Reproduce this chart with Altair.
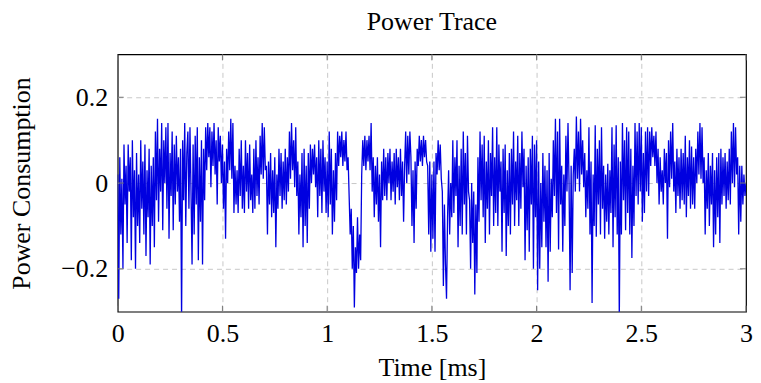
import altair as alt
import pandas as pd

power_0_0p5 = [
    0.02, -0.27, 0.06, -0.12, 0.01, -0.2, 0.09, -0.05, 0.04, -0.14, 0.09, -0.02, 0.06, -0.18, 0.10, -0.08, 0.03, -0.2, 0.07, -0.1,
    0.02, -0.14, 0.1, -0.06, 0.05, -0.12, 0.09, -0.17, 0.03, -0.08, 0.08, -0.19, 0.04, -0.1, 0.06, -0.15, 0.12, -0.04, 0.15, -0.09,
    0.08, -0.02, 0.14, -0.11, 0.1, 0.0, 0.13, -0.06, 0.14, -0.13, 0.07, -0.03, 0.12, -0.11, 0.09, -0.05, 0.11, -0.02, 0.06, -0.09,
    0.08, -0.32, 0.1, -0.04, 0.14, -0.1, 0.07, 0.12, -0.06, 0.13, -0.02, -0.19, 0.09, -0.12, 0.11, -0.05, 0.13, -0.18, 0.06, -0.09,
    0.1, -0.19, 0.08, -0.04, 0.13, 0.03, 0.14, 0.06, 0.13, -0.01, 0.12, 0.04, 0.14, 0.02, 0.1, -0.05, 0.13, 0.05, 0.11, 0.0,
]
power_0p5_1 = [
    0.09, -0.06, 0.05, -0.13, 0.08, 0.0, 0.12, 0.03, 0.15, 0.01, 0.14, -0.07, 0.04, -0.05, 0.03, -0.07, 0.08, -0.03, 0.1, -0.06,
    0.04, -0.07, 0.1, -0.02, 0.07, -0.06, 0.09, -0.04, 0.02, -0.07, 0.08, -0.06, 0.1, -0.03, 0.06, -0.05, 0.11, 0.02, 0.14, 0.01,
    0.13, 0.03, 0.04, -0.12, 0.05, -0.05, 0.07, -0.08, 0.03, -0.07, 0.06, -0.15, 0.02, -0.06, 0.08, -0.03, 0.07, -0.06, 0.05, -0.04,
    0.08, -0.05, 0.06, -0.02, 0.12, 0.01, 0.14, 0.03, 0.1, -0.01, 0.13, -0.03, 0.05, -0.12, 0.02, -0.08, 0.07, -0.15, 0.08, -0.1,
    0.04, -0.14, 0.07, -0.06, 0.09, 0.0, 0.08, 0.02, 0.09, -0.01, 0.06, -0.08, 0.1, -0.03, 0.08, -0.07, 0.1, -0.02, 0.06, -0.07,
]
power_1_1p5 = [
    0.05, -0.08, 0.12, -0.05, 0.08, -0.12, 0.03, -0.09, 0.07, -0.04, 0.12, 0.04, 0.11, 0.06, 0.12, 0.04, 0.1, 0.05, 0.12, 0.03,
    0.06, -0.03, -0.12, -0.06, -0.2, -0.1, -0.29, -0.15, -0.21, -0.08, -0.2, -0.12, -0.18, 0.02, 0.1, 0.04, 0.11, 0.03, 0.1, 0.05,
    0.11, 0.03, 0.14, -0.02, 0.06, -0.08, 0.04, -0.05, 0.06, -0.09, 0.02, -0.15, 0.05, -0.04, 0.08, -0.03, 0.06, -0.04, 0.07, 0.0,
    0.08, -0.04, 0.05, -0.02, 0.07, -0.05, 0.08, -0.01, 0.06, -0.04, 0.08, -0.03, 0.05, -0.09, 0.04, 0.12, 0.0, 0.11, 0.02, 0.12,
    0.06, -0.1, 0.03, -0.14, 0.05, -0.06, 0.08, 0.04, 0.11, 0.05, 0.1, 0.04, 0.11, 0.06, 0.1, 0.05, 0.04, -0.12, 0.05, -0.16,
]
power_1p5_2 = [
    0.02, -0.13, 0.05, -0.16, 0.07, 0.02, 0.1, 0.03, 0.09, 0.01, -0.02, -0.24, -0.05, -0.19, -0.27, -0.08, 0.03, -0.12, 0.0, -0.08,
    0.1, -0.07, 0.06, -0.03, 0.1, -0.15, 0.04, -0.1, 0.08, -0.12, 0.12, -0.05, 0.07, -0.12, 0.11, -0.02, -0.04, -0.2, 0.0, -0.14,
    -0.02, -0.26, -0.05, -0.21, 0.06, -0.09, 0.12, -0.04, 0.09, -0.08, 0.11, -0.14, 0.05, -0.06, 0.1, -0.12, 0.07, -0.03, 0.13, -0.1,
    0.06, -0.07, 0.13, -0.1, 0.09, -0.02, 0.05, -0.16, 0.08, -0.07, 0.09, -0.17, 0.03, -0.1, 0.07, -0.12, 0.08, -0.05, 0.12, -0.1,
    0.05, -0.04, 0.11, -0.1, 0.07, -0.06, 0.12, -0.01, 0.08, -0.18, 0.04, -0.11, 0.06, -0.16, 0.08, -0.05, 0.11, -0.2, 0.09, -0.08,
]
power_2_2p5 = [
    0.1, -0.25, 0.05, -0.2, 0.0, -0.15, 0.07, -0.09, 0.04, -0.15, 0.03, -0.23, 0.07, -0.16, 0.01, -0.08, 0.1, -0.03, 0.15, -0.07,
    0.12, -0.155, 0.15, -0.05, 0.04, -0.16, 0.02, -0.1, 0.11, -0.02, 0.14, 0.0, -0.25, 0.04, -0.21, 0.02, 0.08, -0.02, 0.155, 0.01,
    0.12, -0.02, 0.15, 0.02, 0.1, -0.01, 0.07, -0.08, 0.03, -0.06, 0.13, -0.12, 0.05, -0.28, 0.02, -0.1, 0.135, -0.125, 0.08, -0.05,
    0.1, -0.12, 0.13, -0.06, 0.04, -0.13, 0.02, -0.09, 0.045, -0.12, 0.03, -0.07, 0.13, -0.15, 0.09, -0.08, 0.135, -0.12, 0.06, -0.32,
    0.05, -0.12, 0.14, -0.04, 0.1, -0.11, 0.13, -0.07, 0.12, -0.12, 0.08, -0.175, 0.04, -0.1, 0.14, -0.03, 0.12, -0.05, 0.14, -0.02,
]
power_2p5_3 = [
    0.13, -0.09, 0.07, -0.07, 0.12, -0.02, 0.13, -0.03, 0.12, 0.04, 0.13, 0.06, 0.11, 0.04, 0.12, 0.0, 0.08, -0.05, 0.06, -0.02,
    0.03, -0.05, 0.08, 0.0, 0.07, -0.13, 0.1, -0.01, 0.12, 0.01, 0.14, -0.02, 0.05, -0.07, 0.08, -0.03, 0.06, -0.06, 0.08, -0.04,
    0.07, -0.05, 0.11, -0.08, 0.06, -0.03, 0.1, -0.06, 0.085, -0.05, 0.06, -0.06, 0.08, 0.0, 0.12, 0.02, 0.14, 0.01, 0.13, 0.0,
    0.06, -0.12, 0.03, -0.06, 0.07, -0.1, 0.04, -0.05, 0.07, -0.15, 0.03, -0.12, 0.06, -0.08, 0.07, -0.14, 0.08, -0.05, 0.06, -0.03,
    0.07, -0.06, 0.05, -0.04, 0.08, -0.05, 0.12, 0.0, 0.14, -0.01, 0.13, 0.02, 0.06, -0.12, 0.04, -0.09, 0.04, -0.05, 0.02, -0.03,
    0.0,
]

sample_step_ms = 0.005
x_ticks = [0, 0.5, 1, 1.5, 2, 2.5, 3]
y_ticks = [-0.2, 0, 0.2]

power = (power_0_0p5 + power_0p5_1 + power_1_1p5 + power_1p5_2
         + power_2_2p5 + power_2p5_3)
df = pd.DataFrame({
    "t": [round(i * sample_step_ms, 4) for i in range(len(power))],
    "p": power,
})

FONT = "Liberation Serif"
FS = 26
W, H = 630, 258

xs = alt.Scale(domain=[0, 3], nice=False, zero=False)
ys = alt.Scale(domain=[-0.3, 0.3], nice=False, zero=False)

edge_hidden = {"condition": {"test": "datum.value <= 0 || datum.value >= 3", "value": 0},
               "value": 1}

line = alt.Chart(df).mark_line(color="#0000e0", strokeWidth=1.3, clip=True).encode(
    x=alt.X("t:Q", scale=xs, title="Time [ms]",
            axis=alt.Axis(values=x_ticks, format=".1~f", ticks=False, labelPadding=9,
                          labelFlush=False, titlePadding=8, grid=True, gridDash=[5, 4],
                          gridColor="#c8c8c8", gridOpacity=edge_hidden, domain=False)),
    y=alt.Y("p:Q", scale=ys, title="Power Consumption",
            axis=alt.Axis(values=y_ticks, format=".1~f", ticks=False, labelPadding=10,
                          labelFlush=False, titlePadding=26, grid=True, gridDash=[5, 4],
                          gridColor="#c8c8c8", domain=False)),
)

xt = pd.DataFrame({"t": x_ticks})
yt = pd.DataFrame({"p": y_ticks})
tick_x_bottom = alt.Chart(xt).mark_rule(color="#777777").encode(
    x=alt.X("t:Q", scale=xs), y=alt.value(H - 6), y2=alt.value(H))
tick_x_top = alt.Chart(xt).mark_rule(color="#777777").encode(
    x=alt.X("t:Q", scale=xs), y=alt.value(0), y2=alt.value(6))
tick_y_left = alt.Chart(yt).mark_rule(color="#777777").encode(
    y=alt.Y("p:Q", scale=ys), x=alt.value(0), x2=alt.value(6))
tick_y_right = alt.Chart(yt).mark_rule(color="#777777").encode(
    y=alt.Y("p:Q", scale=ys), x=alt.value(W - 6), x2=alt.value(W))

chart = alt.layer(line, tick_x_bottom, tick_x_top, tick_y_left, tick_y_right).properties(
    width=W, height=H,
    title=alt.TitleParams("Power Trace", font=FONT, fontSize=FS, fontWeight="normal",
                          anchor="middle", offset=19, color="black"),
    autosize=alt.AutoSizeParams(type="none"),
    padding={"left": 110, "top": 46, "right": 7, "bottom": 71},
).configure_view(stroke="black", strokeWidth=1.2).configure_axis(
    labelFont=FONT, titleFont=FONT, labelFontSize=FS, titleFontSize=FS,
    titleFontWeight="normal", labelColor="black", titleColor="black",
)

chart.save("out.html", embed_options={"renderer": "svg", "actions": False})
